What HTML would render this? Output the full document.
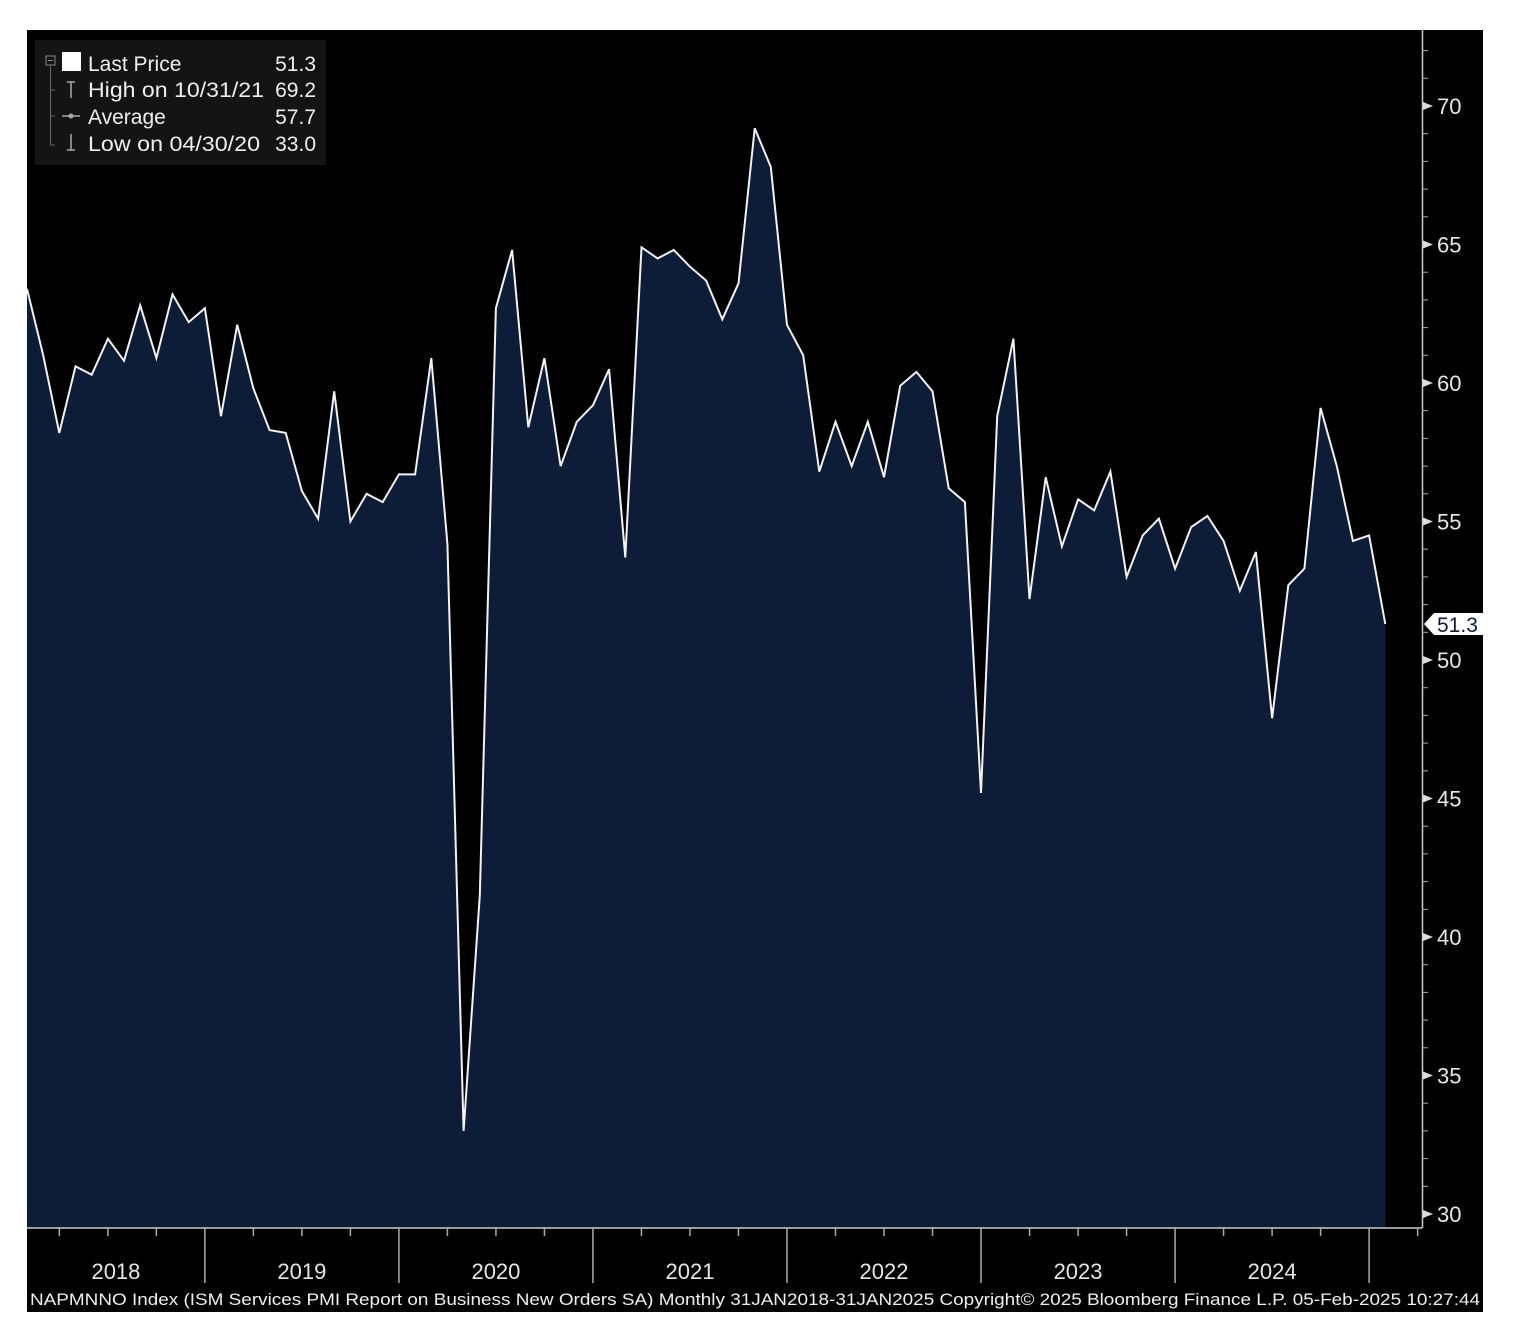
<!DOCTYPE html>
<html><head><meta charset="utf-8"><style>
html,body{margin:0;padding:0;background:#fff;}
svg{display:block;}
text{font-family:"Liberation Sans","DejaVu Sans",sans-serif;}
</style></head><body>
<svg id="chart" width="1514" height="1336" xmlns="http://www.w3.org/2000/svg">
<rect x="0" y="0" width="1514" height="1336" fill="#fff"/>
<rect x="27" y="30" width="1456" height="1282" fill="#000"/>
<g id="area"></g>
<g id="axes"></g>
<g>
<rect x="35" y="40" width="291" height="125" fill="#141414"/>
<rect x="46" y="56" width="9" height="9" fill="none" stroke="#888" stroke-width="1"/>
<line x1="48" y1="60.5" x2="53" y2="60.5" stroke="#888"/>
<line x1="50.5" y1="65" x2="50.5" y2="145" stroke="#666"/>
<line x1="50.5" y1="90" x2="55" y2="90" stroke="#666"/>
<line x1="50.5" y1="116" x2="55" y2="116" stroke="#666"/>
<line x1="50.5" y1="145" x2="55" y2="145" stroke="#666"/>
<rect x="62" y="52" width="19" height="19" fill="#fff"/>
<path d="M67 82h8M71 82v16" stroke="#aaa" stroke-width="1.5"/>
<path d="M62 116h18" stroke="#aaa" stroke-width="1.5"/><circle cx="71" cy="116" r="2.5" fill="#aaa"/>
<path d="M71 134v16M67 150h8" stroke="#aaa" stroke-width="1.5"/>
<g font-size="21" fill="#eee">
<text x="88" y="71">Last Price</text>
<text x="88" y="97" textLength="176" lengthAdjust="spacingAndGlyphs">High on 10/31/21</text>
<text x="88" y="124">Average</text>
<text x="88" y="151" textLength="172" lengthAdjust="spacingAndGlyphs">Low on 04/30/20</text>
<text x="316" y="71" text-anchor="end">51.3</text>
<text x="316" y="97" text-anchor="end">69.2</text>
<text x="316" y="124" text-anchor="end">57.7</text>
<text x="316" y="151" text-anchor="end">33.0</text>
</g></g>
<text x="30" y="1305" font-size="17" fill="#eee" textLength="1450" lengthAdjust="spacingAndGlyphs">NAPMNNO Index (ISM Services PMI Report on Business New Orders SA)  Monthly 31JAN2018-31JAN2025 Copyright© 2025 Bloomberg Finance L.P. 05-Feb-2025 10:27:44</text>
</svg>
<script>
const values = [63.4,61.0,58.2,60.6,60.3,61.6,60.8,62.8,60.9,63.2,62.2,62.7,
58.8,62.1,59.8,58.3,58.2,56.1,55.1,59.7,55.0,56.0,55.7,56.7,
56.7,60.9,54.2,33.0,41.5,62.7,64.8,58.4,60.9,57.0,58.6,59.2,
60.5,53.7,64.9,64.5,64.8,64.2,63.7,62.3,63.6,69.2,67.8,62.1,
61.0,56.8,58.6,57.0,58.6,56.6,59.9,60.4,59.7,56.2,55.7,45.2,
58.8,61.6,52.2,56.6,54.1,55.8,55.4,56.8,53.0,54.5,55.1,53.3,
54.8,55.2,54.3,52.5,53.9,47.9,52.7,53.3,59.1,57.0,54.3,54.5,51.3];
const yTicks = [30,35,40,45,50,55,60,65,70];
const yearLabels = ["2018","2019","2020","2021","2022","2023","2024"];
const lastLabel = "51.3";

const NS="http://www.w3.org/2000/svg";
const x0=27, step=16.17, yBase=1228;
const xScale=i=>x0+i*step;
const yScale=v=>1214-(v-30)*(1214-106)/40;
function mk(tag,attrs,parent){const e=document.createElementNS(NS,tag);for(const k in attrs)e.setAttribute(k,attrs[k]);parent.appendChild(e);return e;}
const area=document.getElementById('area'), axes=document.getElementById('axes');
let pts=values.map((v,i)=>xScale(i).toFixed(1)+','+yScale(v).toFixed(1));
let fillD='M'+xScale(0)+','+yBase+' L'+pts.join(' L')+' L'+xScale(values.length-1)+','+yBase+' Z';
const f=mk('path',{d:fillD,fill:'#0d1d38'},area);


const l=mk('path',{d:'M'+pts.join(' L'),fill:'none',stroke:'#f2f2f2','stroke-width':2,'stroke-linejoin':'miter'},area);


mk('line',{x1:1422.5,y1:30,x2:1422.5,y2:yBase,stroke:'#ccc','stroke-width':1.5},axes);
for(let v=30;v<=72;v++){const y=yScale(v);if(y<32)continue;mk('line',{x1:1422,y1:y,x2:1428,y2:y,stroke:'#aaa','stroke-width':1},axes);}
yTicks.forEach(v=>{const y=yScale(v);
mk('path',{d:`M1423 ${y-4} L1433 ${y} L1423 ${y+4} Z`,fill:'#ddd'},axes);
const t=mk('text',{x:1437,y:y+8,'font-size':22,fill:'#e6e6e6'},axes);t.textContent=v;

});
const ly=yScale(values[values.length-1]);
const tag=mk('path',{d:`M1424 ${ly} L1434 ${ly-11} L1483 ${ly-11} L1483 ${ly+11} L1434 ${ly+11} Z`,fill:'#fff'},axes);


const lt=mk('text',{x:1437,y:ly+8,'font-size':21,fill:'#0d1d38'},axes);lt.textContent=lastLabel;
mk('line',{x1:27,y1:yBase,x2:1422,y2:yBase,stroke:'#ccc','stroke-width':1.5},axes);
for(let i=2;i<values.length+3;i+=3){const x=xScale(i);if(x>1422)break;
const isYear=(i-11)%12===0;
mk('line',{x1:x,y1:yBase,x2:x,y2:isYear?1283:yBase+8,stroke:'#aaa','stroke-width':1.5},axes);}
yearLabels.forEach((yr,k)=>{const a=Math.max(x0,xScale(12*k-1)), b=xScale(12*k+11);
const t=mk('text',{x:(a+b)/2,y:1279,'font-size':22,fill:'#e6e6e6','text-anchor':'middle'},axes);t.textContent=yr;

});
</script>
</body></html>
